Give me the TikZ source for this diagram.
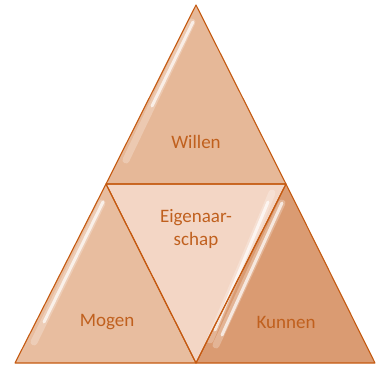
\documentclass[tikz,border=0pt]{standalone}
\usepackage{fontspec}
\setmainfont{Carlito}
\definecolor{edge}{HTML}{C55A11}
\definecolor{topc}{HTML}{E6B898}
\definecolor{midc}{HTML}{F3D6C5}
\definecolor{leftc}{HTML}{E8BD9F}
\definecolor{rightc}{HTML}{DA9B72}
\definecolor{txt}{HTML}{C0601E}
\tikzset{
  tri/.style={draw=edge, line width=1.1pt, line join=round},
  gloss/.style={white, line width=3pt, line cap=round, opacity=0.7},
  glosswide/.style={white, line width=7pt, line cap=round, opacity=0.25},
  lbl/.style={text=txt, font=\fontsize{19}{23}\selectfont, align=center, inner sep=0pt}
}
\begin{document}
\begin{tikzpicture}[x=1pt,y=-1pt]
\useasboundingbox (0,0) rectangle (376,367);
\coordinate (A) at (196,5);
\coordinate (L) at (106,184);
\coordinate (R) at (286,184);
\coordinate (BL) at (15,363);
\coordinate (BM) at (196,363);
\coordinate (BR) at (375,363);
% fills
\fill[topc] (A) -- (L) -- (R) -- cycle;
\fill[midc] (L) -- (R) -- (BM) -- cycle;
\fill[leftc] (L) -- (BL) -- (BM) -- cycle;
\fill[rightc] (R) -- (BM) -- (BR) -- cycle;
% glossy highlights
\draw[glosswide] (192,22) -- (126,160);
\draw[gloss] (193,22) -- (152,106);
\draw[glosswide] (102,203) -- (34,342);
\draw[gloss] (103,202) -- (44,322);
\draw[glosswide] (272,193) -- (210,340);
\draw[gloss] (268,202) -- (215,330);
\draw[glosswide] (282,203) -- (216,345);
\draw[gloss] (282,203) -- (222,335);
% outlines
\draw[tri] (A) -- (L) -- (R) -- cycle;
\draw[tri] (L) -- (BL) -- (BM) -- cycle;
\draw[tri] (R) -- (BM) -- (BR) -- cycle;
\draw[tri] (L) -- (R) -- (BM) -- cycle;
% labels
\node[lbl] (willen) at (196,142) {Willen};
\node[lbl] (eigen) at (196,229) {Eigenaar-\\schap};
\node[lbl] (mogen) at (107,322) {Mogen};
\node[lbl] (kunnen) at (286,322) {Kunnen};
\end{tikzpicture}
\end{document}
